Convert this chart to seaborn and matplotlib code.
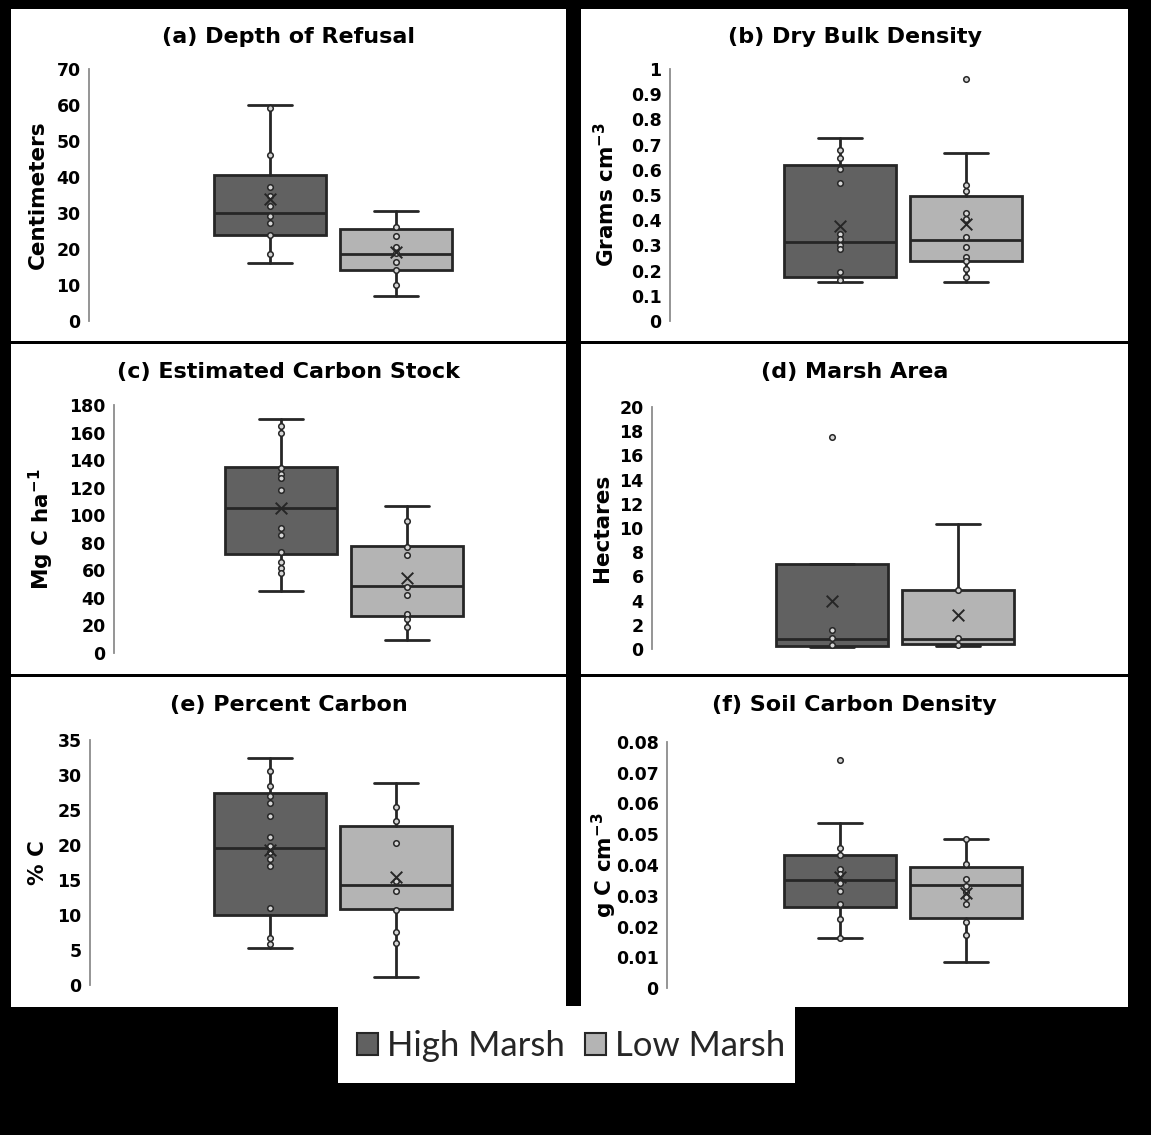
import numpy as np
import pandas as pd
import matplotlib
matplotlib.use('Agg')
import matplotlib.pyplot as plt
import seaborn as sns
from matplotlib.patches import Rectangle, Patch

# ---- chart data ----
titles = ['(a) Depth of Refusal', '(b) Dry Bulk Density', '(c) Estimated Carbon Stock',
          '(d) Marsh Area', '(e) Percent Carbon', '(f) Soil Carbon Density']
ylabels = ['Centimeters', r'Grams cm$^{-3}$', r'Mg C ha$^{-1}$',
           'Hectares', '% C', r'g C cm$^{-3}$']
y_max = [70, 1.0, 180, 20, 35, 0.08]
y_step = [10, 0.1, 20, 2, 5, 0.01]
groups = ['High Marsh', 'Low Marsh']

# box statistics: [lower whisker, Q1, median, Q3, upper whisker]
high_stats = [[16, 24, 30, 40.5, 60],
              [0.153, 0.173, 0.313, 0.619, 0.728],
              [45, 71.5, 105, 135, 170],
              [0.19, 0.27, 0.85, 7.0, 7.0],
              [5.3, 10, 19.6, 27.4, 32.5],
              [0.0164, 0.0264, 0.0351, 0.0434, 0.0535]]
low_stats = [[7, 14.3, 18.5, 25.5, 30.5],
             [0.153, 0.239, 0.321, 0.495, 0.667],
             [9.6, 26.5, 48.3, 77.5, 106.5],
             [0.27, 0.4, 0.8, 4.9, 10.3],
             [1.1, 10.8, 14.3, 22.7, 28.9],
             [0.0084, 0.0228, 0.0336, 0.0394, 0.0484]]
high_means = [34, 0.378, 105.5, 4.0, 19.3, 0.0362]
low_means = [19.3, 0.385, 54.3, 2.85, 15.4, 0.0309]

high_points = [[59.3, 46.2, 37.2, 34.7, 32, 29.1, 27.3, 24, 18.5],
               [0.677, 0.647, 0.604, 0.547, 0.345, 0.325, 0.303, 0.284, 0.193, 0.162],
               [165, 160, 134.6, 130, 127, 118, 91, 85.6, 73, 65.7, 62, 57.9],
               [1.55, 0.9, 0.37],
               [30.6, 28.5, 27, 26, 24.1, 21.1, 19.9, 19, 18, 17, 11, 6.7, 5.9],
               [0.0456, 0.0431, 0.0386, 0.037, 0.0343, 0.0315, 0.0272, 0.0225, 0.0161]]
low_points = [[26.1, 23.6, 20.5, 19, 16.3, 14.2, 10.1],
              [0.538, 0.514, 0.428, 0.405, 0.335, 0.292, 0.255, 0.239, 0.208, 0.175],
              [95.9, 77, 70.8, 47.8, 42.3, 28.2, 24.4, 18.6],
              [4.85, 0.9, 0.37],
              [25.5, 23.4, 20.3, 14.8, 13.5, 10.7, 7.6, 6.0],
              [0.0485, 0.0402, 0.0355, 0.0331, 0.0313, 0.0297, 0.0272, 0.0216, 0.0172]]
high_outliers = [[], [], [], [17.5], [], [0.0742]]
low_outliers = [[], [0.959], [], [], [], []]

# ---- layout (pixels, measured from top-left) ----
W, H = 1151, 1135
axis_x = [89, 670, 114, 652, 90, 667]
y_top = [69, 69, 405, 407, 740, 742]
y_zero = [321, 321, 653, 649, 985, 988]
half_w = [244, 233, 230, 243, 243, 236]
label_x = [38, 606, 41, 602, 38, 604]
col_x = [(11, 566), (581, 1128)]
row_y = [(9, 341), (344, 674), (677, 1007)]

dark = '#262626'
fills = ['#616161', '#b4b4b4']

sns.set_theme(style='white')
plt.rcParams['font.family'] = ['DejaVu Sans']
plt.rcParams['mathtext.fontset'] = 'dejavusans'
plt.rcParams['mathtext.default'] = 'bf'

fig = plt.figure(figsize=(W / 100, H / 100), dpi=100, facecolor='black')

def rect(x0, y0, x1, y1):
    fig.add_artist(Rectangle((x0 / W, 1 - y1 / H), (x1 - x0) / W, (y1 - y0) / H,
                             transform=fig.transFigure, facecolor='white',
                             edgecolor='none', zorder=0))

for r in range(3):
    for c in range(2):
        rect(col_x[c][0], row_y[r][0], col_x[c][1], row_y[r][1])
rect(338, 1006, 795, 1083)

for i in range(6):
    r, c = divmod(i, 2)
    ax = fig.add_axes([axis_x[i] / W, 1 - y_zero[i] / H,
                       2 * half_w[i] / W, (y_zero[i] - y_top[i]) / H])
    ax.set_facecolor('none')
    stats = []
    for s, m in [(high_stats[i], high_means[i]), (low_stats[i], low_means[i])]:
        stats.append(dict(whislo=s[0], q1=s[1], med=s[2], q3=s[3], whishi=s[4],
                          mean=m, fliers=[]))
    pos = [-63, 63]
    bp = ax.bxp(stats, positions=pos, widths=112, capwidths=44, patch_artist=True,
                showfliers=False, manage_ticks=False,
                boxprops=dict(edgecolor=dark, linewidth=2),
                medianprops=dict(color=dark, linewidth=2),
                whiskerprops=dict(color=dark, linewidth=2),
                capprops=dict(color=dark, linewidth=2))
    for patch, f in zip(bp['boxes'], fills):
        patch.set_facecolor(f)

    pts = pd.DataFrame({
        'x': [pos[0]] * (len(high_points[i]) + len(high_outliers[i]))
             + [pos[1]] * (len(low_points[i]) + len(low_outliers[i])),
        'y': high_points[i] + high_outliers[i] + low_points[i] + low_outliers[i]})
    sns.scatterplot(data=pts, x='x', y='y', ax=ax, marker='o', s=16,
                    facecolor='#d6d6d6', edgecolor=dark, linewidth=1.1,
                    legend=False, zorder=4)
    means = pd.DataFrame({'x': pos, 'y': [high_means[i], low_means[i]]})
    sns.scatterplot(data=means, x='x', y='y', ax=ax, marker='x', s=70,
                    color=dark, linewidth=1.4, legend=False, zorder=5)

    ax.set_xlim(-half_w[i], half_w[i])
    ax.set_ylim(0, y_max[i])
    ticks = np.round(np.arange(0, y_max[i] + y_step[i] / 2, y_step[i]), 4)
    ax.set_yticks(ticks)
    ax.set_yticklabels(['{:g}'.format(t) for t in ticks], fontweight='bold',
                       fontsize=12.5, color='black')
    ax.set_xticks([])
    ax.set_xlabel('')
    ax.set_ylabel('')
    ax.tick_params(axis='y', length=0, pad=6)
    for sp in ['top', 'right', 'bottom']:
        ax.spines[sp].set_visible(False)
    ax.spines['left'].set_color('#8c8c8c')
    ax.spines['left'].set_linewidth(1.3)
    ax.grid(False)

    ax.text((label_x[i] - axis_x[i]) / (2 * half_w[i]), 0.5, ylabels[i],
            transform=ax.transAxes, rotation=90, ha='center', va='center',
            fontsize=15.5, fontweight='bold', color='black')
    cx = (col_x[c][0] + col_x[c][1]) / 2
    fig.text(cx / W, 1 - (row_y[r][0] + 28) / H, titles[i], ha='center', va='center',
             fontsize=16, fontweight='bold', color='black')

handles = [Patch(facecolor=f, edgecolor=dark, linewidth=1.5, label=g)
           for f, g in zip(fills, groups)]
fig.legend(handles=handles, loc='center', bbox_to_anchor=(571 / W, 1 - 1046 / H),
           ncol=2, frameon=False, prop={'family': 'Lato', 'size': 25},
           handlelength=0.6, handleheight=0.6, handletextpad=0.25,
           columnspacing=0.6, labelcolor=dark)

fig.savefig('out.png', dpi=100, facecolor='black')
